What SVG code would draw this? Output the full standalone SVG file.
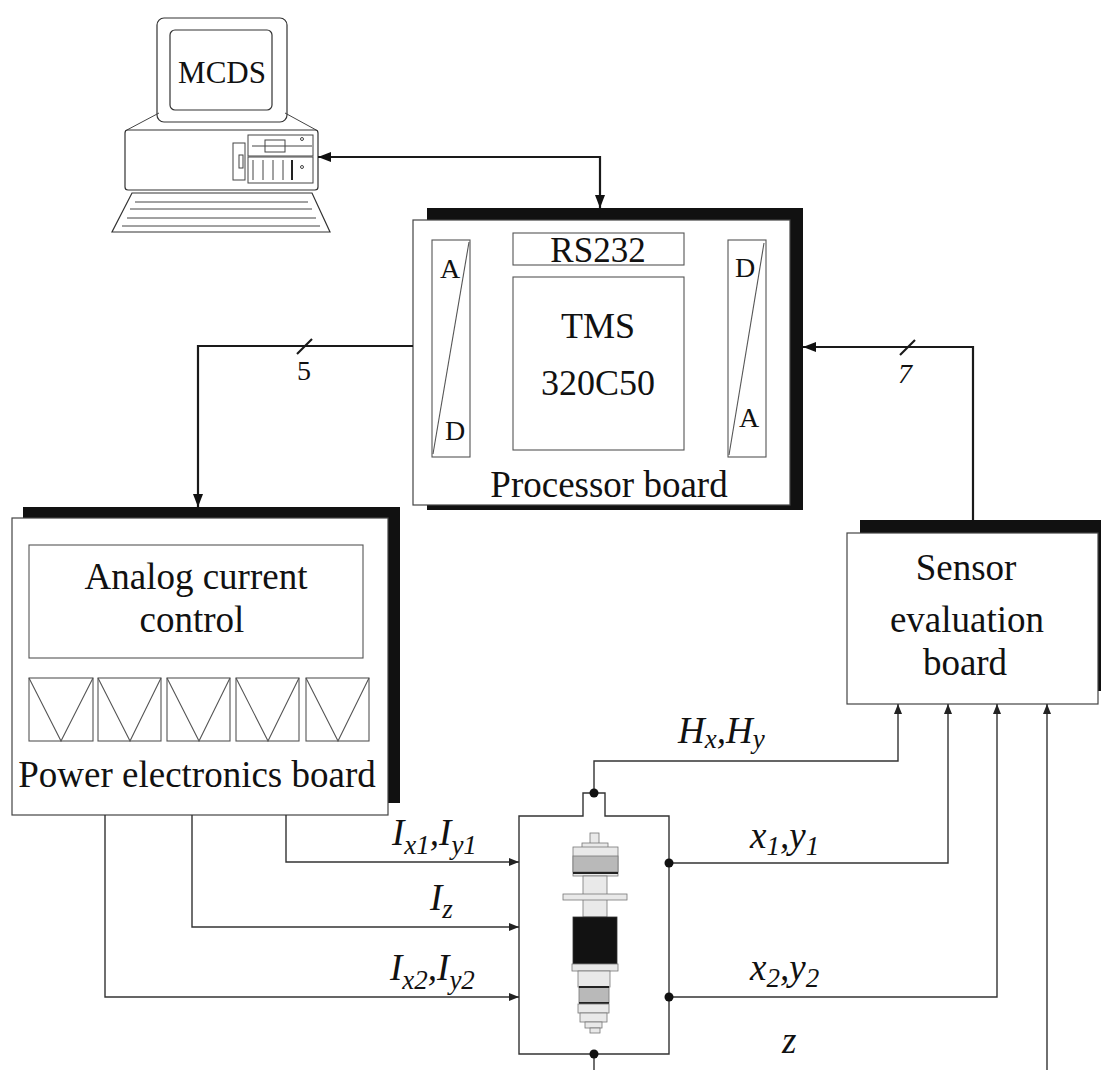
<svg xmlns="http://www.w3.org/2000/svg" width="1102" height="1077" viewBox="0 0 1102 1077">
  <style>
    .bg { fill: #fff; }
    .box { fill: #fff; stroke: #444; stroke-width: 1.2; }
    .inner { fill: none; stroke: #555; stroke-width: 1.1; }
    .shadow { fill: #111; }
    .wire { fill: none; stroke: #1a1a1a; stroke-width: 2.2; }
    .thin { fill: none; stroke: #333; stroke-width: 1.4; }
    .pc { fill: #fff; stroke: #333; stroke-width: 1.2; }
    .pcl { fill: none; stroke: #444; stroke-width: 1; }
    .t { font-family: "Liberation Serif", "Times New Roman", serif; fill: #111; }
    .big { font-size: 37px; text-anchor: middle; }
    .ad { font-size: 28px; text-anchor: middle; }
    .lbl { font-size: 37px; font-style: italic; }
    .sub { font-size: 27px; font-style: italic; }
    .rl { fill: #e9e9e9; stroke: #777; stroke-width: 0.8; }
    .rg { fill: #b9b9b9; stroke: #777; stroke-width: 0.8; }
    .rb { fill: #121212; stroke: #333; stroke-width: 0.8; }
    .dot { fill: #111; }
  </style>
  <defs>
    <marker id="ah" viewBox="0 0 13 10" refX="13" refY="5" markerWidth="13" markerHeight="10" markerUnits="userSpaceOnUse" orient="auto-start-reverse">
      <path d="M0,0 L13,5 L0,10 z" fill="#111"/>
    </marker>
    <marker id="as" viewBox="0 0 10 8" refX="10" refY="4" markerWidth="10" markerHeight="8" markerUnits="userSpaceOnUse" orient="auto">
      <path d="M0,0 L10,4 L0,8 z" fill="#222"/>
    </marker>
  </defs>

  <rect class="bg" x="0" y="0" width="1102" height="1077"/>

  <!-- host computer -->
  <g id="computer">
    <rect class="pc" x="157" y="18" width="130" height="104" rx="7"/>
    <rect class="pc" x="170" y="30" width="102" height="80" rx="5"/>
    <text class="t" x="222" y="83" font-size="31" text-anchor="middle">MCDS</text>
    <line class="pcl" x1="159" y1="113" x2="125" y2="131"/>
    <line class="pcl" x1="285" y1="113" x2="318" y2="131"/>
    <rect class="pc" x="125" y="130" width="193" height="60" rx="3"/>
    <rect class="pcl" x="233" y="143" width="12" height="37"/>
    <rect class="pcl" x="239" y="155" width="4" height="13"/>
    <rect class="pcl" x="248" y="135" width="65" height="21"/>
    <line class="pcl" x1="252" y1="146" x2="312" y2="146"/>
    <rect class="pcl" x="265" y="140" width="20" height="12"/>
    <circle class="pcl" cx="302" cy="139" r="1.5"/>
    <rect class="pcl" x="248" y="157" width="65" height="26"/>
    <path class="pcl" d="M253,160 V180 M263,160 V180 M273,160 V180 M283,160 V180"/>
    <line x1="292" y1="160" x2="292" y2="180" stroke="#222" stroke-width="2"/>
    <circle class="pcl" cx="302" cy="167" r="1.5"/>
    <path class="pc" d="M132,193 H312 L330,232 H112 Z"/>
    <path class="pcl" d="M135,202 H308 M130,209 H312 M127,218 H316 M122,226 H320"/>
  </g>

  <!-- processor board -->
  <g id="processor">
    <rect class="shadow" x="427" y="208" width="376" height="302"/>
    <rect class="box" x="413" y="220" width="377" height="285"/>
    <rect class="inner" x="432" y="240" width="38" height="217"/>
    <line class="inner" x1="469" y1="242" x2="433" y2="454"/>
    <text class="t ad" x="450" y="278">A</text>
    <text class="t ad" x="455" y="440">D</text>
    <rect class="inner" x="513" y="233" width="171" height="32"/>
    <text class="t" x="598" y="262" font-size="35" text-anchor="middle">RS232</text>
    <rect class="inner" x="513" y="277" width="171" height="173"/>
    <text class="t" x="598" y="338" font-size="36" text-anchor="middle">TMS</text>
    <text class="t" x="598" y="395" font-size="36" text-anchor="middle">320C50</text>
    <rect class="inner" x="728" y="240" width="38" height="217"/>
    <line class="inner" x1="764" y1="243" x2="729" y2="455"/>
    <text class="t ad" x="745" y="277">D</text>
    <text class="t ad" x="749" y="427">A</text>
    <text class="t big" x="609" y="497">Processor board</text>
  </g>

  <!-- power electronics board -->
  <g id="power">
    <rect class="shadow" x="23" y="507" width="377" height="296"/>
    <rect class="box" x="12" y="518" width="376" height="297"/>
    <rect class="inner" x="29" y="545" width="334" height="113"/>
    <text class="t big" x="196" y="589">Analog current</text>
    <text class="t big" x="192" y="632">control</text>
    <g class="inner">
      <rect x="29" y="678" width="64" height="63"/>
      <path d="M29,678 L61,741 L93,678"/>
      <rect x="98" y="678" width="63" height="63"/>
      <path d="M98,678 L130,741 L161,678"/>
      <rect x="167" y="678" width="63" height="63"/>
      <path d="M167,678 L199,741 L230,678"/>
      <rect x="236" y="678" width="63" height="63"/>
      <path d="M236,678 L268,741 L299,678"/>
      <rect x="306" y="678" width="63" height="63"/>
      <path d="M306,678 L338,741 L369,678"/>
    </g>
    <text class="t big" x="197" y="787">Power electronics board</text>
  </g>

  <!-- sensor evaluation board -->
  <g id="sensor">
    <rect class="shadow" x="860" y="520" width="241" height="171"/>
    <rect class="box" x="847" y="533" width="251" height="171"/>
    <text class="t big" x="966" y="580">Sensor</text>
    <text class="t big" x="967" y="632">evaluation</text>
    <text class="t big" x="965" y="675">board</text>
  </g>

  <!-- bearing rig with rotor -->
  <g id="rotor">
    <path class="thin" d="M519,816 H583 V793 H605 V816 H669 V1054 H519 Z" fill="#fff"/>
    <rect class="rl" x="590" y="833" width="9" height="11"/>
    <rect class="rl" x="582" y="843" width="26" height="5"/>
    <rect class="rl" x="573" y="847" width="45" height="29"/>
    <rect class="rg" x="573" y="856" width="45" height="16"/>
    <rect x="573" y="872" width="45" height="2" fill="#222"/>
    <rect class="rl" x="583" y="876" width="24" height="41"/>
    <rect class="rl" x="563" y="894" width="64" height="6"/>
    <rect class="rb" x="573" y="917" width="44" height="47"/>
    <rect class="rl" x="572" y="964" width="46" height="7"/>
    <rect class="rl" x="578" y="971" width="32" height="16"/>
    <rect class="rg" x="579" y="987" width="30" height="16"/>
    <rect x="579" y="986" width="30" height="2" fill="#222"/>
    <rect x="579" y="1002" width="30" height="2" fill="#222"/>
    <rect class="rl" x="578" y="1004" width="31" height="9" fill="#f6f6f6"/>
    <rect class="rl" x="580" y="1013" width="27" height="9"/>
    <rect class="rl" x="585" y="1022" width="17" height="6"/>
    <rect class="rl" x="590" y="1028" width="10" height="5"/>
  </g>

  <!-- connectors -->
  <g id="connectors">
    <path class="wire" d="M318,157 H600 V208" marker-start="url(#ah)" marker-end="url(#ah)"/>
    <path class="wire" d="M413,346 H198 V507" marker-end="url(#ah)"/>
    <line class="wire" x1="297" y1="354" x2="312" y2="339" stroke-width="1.6"/>
    <text class="t" x="304" y="380" font-size="28" text-anchor="middle">5</text>
    <path class="wire" d="M973,520 V347 H803" marker-end="url(#ah)"/>
    <line class="wire" x1="900" y1="355" x2="915" y2="340" stroke-width="1.6"/>
    <text class="t" x="905" y="383" font-size="28" font-style="italic" text-anchor="middle">7</text>

    <path class="thin" d="M286,815 V862 H519" marker-end="url(#as)"/>
    <path class="thin" d="M192,815 V927 H519" marker-end="url(#as)"/>
    <path class="thin" d="M105,815 V997 H519" marker-end="url(#as)"/>

    <path class="thin" d="M594,793 V761 H898 V704" marker-end="url(#as)"/>
    <path class="thin" d="M669,863 H948 V704" marker-end="url(#as)"/>
    <path class="thin" d="M669,997 H997 V704" marker-end="url(#as)"/>
    <path class="thin" d="M1047,1070 V704" marker-end="url(#as)"/>
    <path class="thin" d="M594,1054 V1070"/>
    <circle class="dot" cx="594" cy="793" r="4.5"/>
    <circle class="dot" cx="669" cy="863" r="4.5"/>
    <circle class="dot" cx="669" cy="997" r="4.5"/>
    <circle class="dot" cx="594" cy="1054" r="4.5"/>

    <text class="t lbl" x="392" y="845">I<tspan class="sub" dy="9">x1</tspan><tspan dy="-9">,I</tspan><tspan class="sub" dy="9">y1</tspan></text>
    <text class="t lbl" x="430" y="910">I<tspan class="sub" dy="8">z</tspan></text>
    <text class="t lbl" x="390" y="980">I<tspan class="sub" dy="9">x2</tspan><tspan dy="-9">,I</tspan><tspan class="sub" dy="9">y2</tspan></text>
    <text class="t lbl" x="678" y="743">H<tspan class="sub" dy="5">x</tspan><tspan dy="-5">,H</tspan><tspan class="sub" dy="5">y</tspan></text>
    <text class="t lbl" x="750" y="848">x<tspan class="sub" dy="7">1</tspan><tspan dy="-7">,y</tspan><tspan class="sub" dy="7">1</tspan></text>
    <text class="t lbl" x="750" y="980">x<tspan class="sub" dy="7">2</tspan><tspan dy="-7">,y</tspan><tspan class="sub" dy="7">2</tspan></text>
    <text class="t lbl" x="782" y="1053">z</text>
  </g>
</svg>
